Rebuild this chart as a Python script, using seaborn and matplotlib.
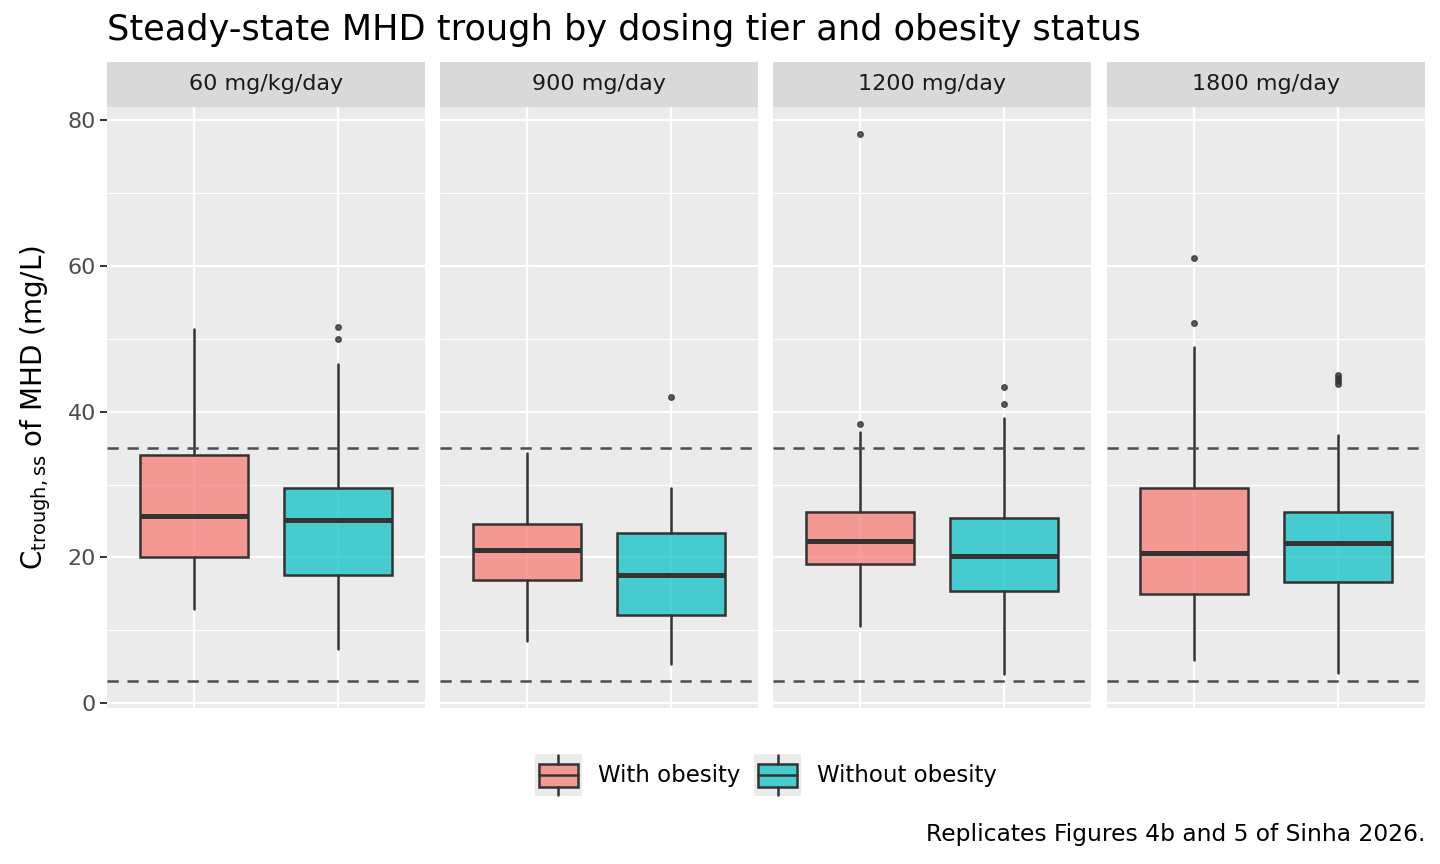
import numpy as np
import pandas as pd
import matplotlib
matplotlib.use("Agg")
import matplotlib.pyplot as plt
import seaborn as sns
from matplotlib.patches import Rectangle, Patch
from matplotlib.lines import Line2D
from matplotlib.legend_handler import HandlerBase

# box statistics (mg/L)
tiers = ["60 mg/kg/day", "900 mg/day", "1200 mg/day", "1800 mg/day"]
groups = ["With obesity", "Without obesity"]

ob_whislo = [13.0, 8.5, 10.6, 5.9]
ob_q1 = [20.1, 16.9, 19.1, 15.0]
ob_med = [25.7, 21.0, 22.2, 20.6]
ob_q3 = [34.1, 24.6, 26.3, 29.5]
ob_whishi = [51.3, 34.3, 37.2, 48.9]
ob_fliers = [[], [], [78.1, 38.3], [61.1, 52.1]]

non_whislo = [7.5, 5.4, 4.0, 4.1]
non_q1 = [17.6, 12.1, 15.4, 16.6]
non_med = [25.2, 17.6, 20.2, 22.0]
non_q3 = [29.5, 23.3, 25.4, 26.3]
non_whishi = [46.6, 29.5, 39.1, 36.8]
non_fliers = [[51.6, 50.0], [42.0], [43.4, 41.0], [45.0, 44.6, 44.2, 43.8]]

target_range = [3, 35]

palette = {"With obesity": "#F8766D", "Without obesity": "#00BFC4"}

sns.set_theme(style="darkgrid")
plt.rcParams["font.family"] = ["DejaVu Sans"]
plt.rcParams["text.color"] = "black"
plt.rcParams["axes.labelcolor"] = "black"

rows = []
for i, t in enumerate(tiers):
    rows.append(dict(tier=t, group=groups[0], whislo=ob_whislo[i], q1=ob_q1[i], med=ob_med[i],
                     q3=ob_q3[i], whishi=ob_whishi[i], fliers=ob_fliers[i]))
    rows.append(dict(tier=t, group=groups[1], whislo=non_whislo[i], q1=non_q1[i], med=non_med[i],
                     q3=non_q3[i], whishi=non_whishi[i], fliers=non_fliers[i]))
stats = pd.DataFrame(rows)

fig = plt.figure(figsize=(14.4, 8.64), dpi=100)
W, H = 1440, 864
lefts = [107, 440, 773, 1107]
pw, top, bottom = 318, 107, 708
strip_h = 45

axes = []
for i, t in enumerate(tiers):
    ax = fig.add_axes([lefts[i] / W, (H - bottom) / H, pw / W, (bottom - top) / H])
    ax.set_facecolor("#EBEBEB")
    sub = stats[stats["tier"] == t]
    for j, (_, r) in enumerate(sub.iterrows()):
        bx = ax.bxp([dict(whislo=r.whislo, q1=r.q1, med=r.med, q3=r.q3, whishi=r.whishi,
                          fliers=r.fliers)],
                    positions=[j + 1], widths=0.75, patch_artist=True, showcaps=False,
                    boxprops=dict(facecolor=palette[r.group], edgecolor="#333333", linewidth=1.8),
                    medianprops=dict(color="#333333", linewidth=3.6),
                    whiskerprops=dict(color="#333333", linewidth=1.8),
                    flierprops=dict(marker="o", markersize=4, markerfacecolor="#333333",
                                    markeredgecolor="#333333", alpha=0.8),
                    zorder=3)
        for b in bx["boxes"]:
            b.set_facecolor(matplotlib.colors.to_rgba(palette[r.group], 0.7))
            b.set_edgecolor("#333333")
    for yv in target_range:
        ax.axhline(yv, color="#4D4D4D", linestyle=(0, (4.5, 3.5)), linewidth=1.8, zorder=4)
    ax.set_xlim(0.4, 2.6)
    ax.set_ylim(-0.65, 81.8)
    ax.set_yticks([0, 20, 40, 60, 80])
    ax.set_yticks([10, 30, 50, 70], minor=True)
    ax.set_xticks([1, 2])
    ax.set_xticklabels([])
    ax.grid(which="major", color="white", linewidth=1.6)
    ax.grid(which="minor", color="white", linewidth=0.8)
    ax.tick_params(axis="x", length=0)
    ax.tick_params(axis="y", which="major", length=5, width=1.4, color="#333333", labelsize=16,
                   labelcolor="#4D4D4D", pad=3, left=(i == 0))
    ax.tick_params(axis="y", which="minor", length=0)
    if i > 0:
        ax.set_yticklabels([])
    for s in ax.spines.values():
        s.set_visible(False)
    ax.add_patch(Rectangle((0, 1), 1, strip_h / (bottom - top), transform=ax.transAxes,
                           facecolor="#D9D9D9", edgecolor="none", clip_on=False))
    ax.text(0.5, 1 + strip_h / 2 / (bottom - top), t, transform=ax.transAxes, ha="center",
            va="center", fontsize=16, color="#1A1A1A")
    axes.append(ax)

axes[0].set_ylabel(r"C$_{\mathregular{trough,ss}}$ of MHD (mg/L)", fontsize=20)
axes[0].yaxis.set_label_coords(-0.17, 0.5)

fig.text(107 / W, 1 - 30 / H, "Steady-state MHD trough by dosing tier and obesity status",
         fontsize=25.3, ha="left", va="center")
fig.text(1425 / W, 1 - 835 / H, "Replicates Figures 4b and 5 of Sinha 2026.",
         fontsize=16.8, ha="right", va="center")


class BoxKey(HandlerBase):
    def __init__(self, color):
        super().__init__()
        self.color = color

    def create_artists(self, legend, orig, xd, yd, width, height, fontsize, trans):
        x0, y0 = -xd, -yd
        bg = Rectangle((x0, y0), width, height, facecolor="#EBEBEB", edgecolor="none", transform=trans)
        bw = width * 0.82
        bx0 = x0 + (width - bw) / 2
        b_lo, b_hi = y0 + height * 0.22, y0 + height * 0.76
        box = Rectangle((bx0, b_lo), bw, b_hi - b_lo,
                        facecolor=matplotlib.colors.to_rgba(self.color, 0.7),
                        edgecolor="#333333", linewidth=1.8, transform=trans)
        cx = x0 + width / 2
        w1 = Line2D([cx, cx], [b_hi, y0 + height * 0.98], color="#333333", lw=1.8, transform=trans)
        w2 = Line2D([cx, cx], [y0 + height * 0.02, b_lo], color="#333333", lw=1.8, transform=trans)
        md = Line2D([bx0, bx0 + bw], [(b_lo + b_hi) / 2] * 2, color="#333333", lw=1.8, transform=trans)
        return [bg, box, w1, w2, md]


handles = [Patch(label=g) for g in groups]
fig.legend(handles=handles, labels=groups, loc="center", bbox_to_anchor=(766 / W, 1 - 775 / H),
           ncol=2, frameon=False, fontsize=16.5, handlelength=2.05, handleheight=2.45,
           columnspacing=0.6, handletextpad=0.7, borderpad=0.2,
           handler_map={handles[0]: BoxKey(palette[groups[0]]), handles[1]: BoxKey(palette[groups[1]])})

fig.savefig("out.png", dpi=100)
